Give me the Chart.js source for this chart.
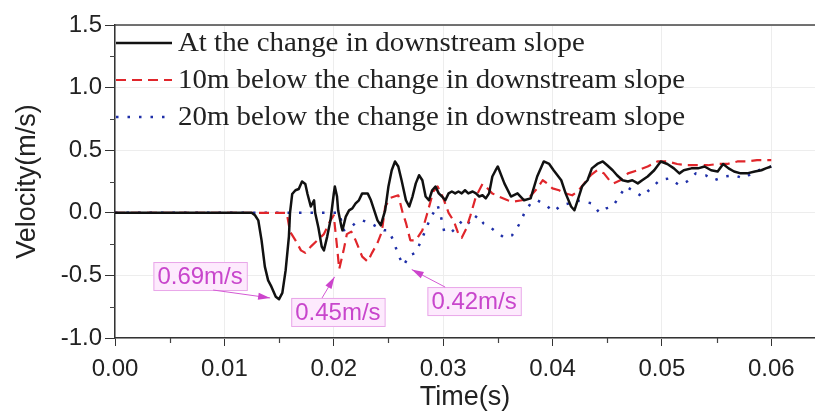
<!DOCTYPE html>
<html>
<head>
<meta charset="utf-8">
<script src="https://cdn.jsdelivr.net/npm/chart.js@4.4.1/dist/chart.umd.min.js"></script>
<style>
  html, body { margin: 0; padding: 0; background: #fff; }
  #wrap { width: 815px; height: 415px; position: relative; }
</style>
</head>
<body>
<div id="wrap"><canvas id="velocity-chart"></canvas></div>
<script>
// axis ticks
const xTicks = [0, 0.01, 0.02, 0.03, 0.04, 0.05, 0.06];
const yTicks = [-1.0, -0.5, 0.0, 0.5, 1.0, 1.5];

const seriesNames = [
    'At the change in downstream slope',
    '10m below the change in downstream slope',
    '20m below the change in downstream slope'
];

// velocity at the change in downstream slope
const atChangeTime = [0, 0.0125, 0.0128, 0.0131, 0.0134, 0.0137, 0.0140, 0.0143, 0.0147, 0.0150, 0.0153, 0.0156, 0.0159, 0.0160,
    0.0162, 0.0165, 0.0168, 0.0171, 0.0174, 0.0176, 0.0179, 0.0182, 0.0183, 0.0186, 0.0189, 0.0191, 0.0194, 0.0197, 0.0200,
    0.0201, 0.0203, 0.0204, 0.0207, 0.0208, 0.0211, 0.0214, 0.0217, 0.0220, 0.0223, 0.0226, 0.0231, 0.0234, 0.0237, 0.0240,
    0.0243, 0.0247, 0.0250, 0.0253, 0.0256, 0.0259, 0.0262, 0.0266, 0.0269, 0.0272, 0.0275, 0.0278, 0.0281, 0.0284, 0.0287,
    0.0290, 0.0293, 0.0296, 0.0299, 0.0302, 0.0305, 0.0308, 0.0311, 0.0314, 0.0317, 0.0320, 0.0323, 0.0327, 0.0330, 0.0333,
    0.0336, 0.0339, 0.0342, 0.0345, 0.0348, 0.0350, 0.0356, 0.0362, 0.0368, 0.0374, 0.0380, 0.0386, 0.0392, 0.0397, 0.0401,
    0.0408, 0.0412, 0.0417, 0.0420, 0.0423, 0.0427, 0.0432, 0.0436, 0.0441, 0.0446, 0.0450, 0.0455, 0.0459, 0.0464, 0.0469,
    0.0473, 0.0478, 0.0482, 0.0487, 0.0493, 0.0499, 0.0505, 0.0511, 0.0516, 0.0520, 0.0527, 0.0533, 0.0539, 0.0545, 0.0551,
    0.0556, 0.0561, 0.0566, 0.0572, 0.0578, 0.0585, 0.0591, 0.0595, 0.0600];
const atChangeVel = [0, 0, -0.02, -0.06, -0.22, -0.43, -0.54, -0.59, -0.67, -0.69, -0.64, -0.46, -0.19, 0.0,
    0.15, 0.18, 0.19, 0.25, 0.23, 0.15, 0.05, 0.10, 0.0, -0.12, -0.27, -0.30, -0.19, -0.06, 0.15,
    0.21, 0.13, 0.02, -0.11, -0.14, -0.03, 0.02, 0.035, 0.075, 0.10, 0.155, 0.155, 0.10, 0.02, -0.06,
    -0.10, 0.02, 0.21, 0.34, 0.41, 0.37, 0.26, 0.10, 0.05, 0.13, 0.235, 0.30, 0.26, 0.13, 0.10,
    0.18, 0.21, 0.155, 0.13, 0.10, 0.155, 0.17, 0.155, 0.17, 0.155, 0.18, 0.155, 0.17, 0.155, 0.13,
    0.14, 0.115, 0.155, 0.29, 0.34, 0.37, 0.235, 0.13, 0.155, 0.10, 0.115, 0.29, 0.41, 0.39, 0.34,
    0.26, 0.155, 0.05, 0.02, 0.10, 0.21, 0.26, 0.355, 0.39, 0.41, 0.38, 0.34, 0.30, 0.26, 0.25,
    0.26, 0.235, 0.26, 0.29, 0.34, 0.41, 0.39, 0.355, 0.315, 0.34, 0.355, 0.355, 0.37, 0.34, 0.33,
    0.39, 0.355, 0.33, 0.315, 0.315, 0.33, 0.34, 0.355, 0.37];

// 10 m below the change
const below10Time = [0, 0.0157, 0.0160, 0.0165, 0.0170, 0.0174, 0.0179, 0.0185, 0.0191, 0.0197, 0.0200, 0.0203, 0.0205,
    0.0209, 0.0212, 0.0216, 0.0220, 0.0226, 0.0231, 0.0235, 0.0240, 0.0244, 0.0247, 0.0252, 0.0259, 0.0263, 0.0266, 0.0270,
    0.0275, 0.0281, 0.0285, 0.0291, 0.0295, 0.0300, 0.0305, 0.0310, 0.0314, 0.0317, 0.0321, 0.0325, 0.0330, 0.0336, 0.0340,
    0.0345, 0.0351, 0.0359, 0.0365, 0.0372, 0.0378, 0.0386, 0.0391, 0.0395, 0.0400, 0.0406, 0.0412, 0.0418, 0.0423, 0.0429,
    0.0435, 0.0441, 0.0447, 0.0452, 0.0456, 0.0462, 0.0469, 0.0478, 0.0487, 0.0496, 0.0505, 0.0514, 0.0523, 0.0533, 0.0542,
    0.0551, 0.0560, 0.0569, 0.0578, 0.0587, 0.0597, 0.0600];
const below10Vel = [0, 0, -0.15, -0.22, -0.30, -0.32, -0.27, -0.22, -0.17, -0.06, -0.02, -0.27, -0.45,
    -0.30, -0.17, -0.15, -0.22, -0.35, -0.39, -0.32, -0.24, -0.15, 0.05, 0.12, 0.14, 0.0, -0.08, -0.22,
    -0.22, -0.14, -0.02, 0.17, 0.21, 0.12, 0.0, -0.07, -0.17, -0.20, -0.13, -0.02, 0.13, 0.23, 0.20,
    0.155, 0.13, 0.10, 0.09, 0.10, 0.115, 0.195, 0.26, 0.235, 0.195, 0.18, 0.155, 0.14, 0.17, 0.235,
    0.30, 0.34, 0.315, 0.26, 0.235, 0.26, 0.315, 0.34, 0.37, 0.41, 0.41, 0.39, 0.38, 0.38, 0.38,
    0.39, 0.39, 0.41, 0.41, 0.42, 0.42, 0.42];

// 20 m below the change
const below20Time = [0, 0.0205, 0.0209, 0.0215, 0.0220, 0.0226, 0.0234, 0.0241, 0.0246, 0.0250, 0.0255, 0.0259, 0.0264,
    0.0269, 0.0275, 0.0281, 0.0288, 0.0295, 0.0298, 0.0301, 0.0307, 0.0313, 0.0319, 0.0325, 0.0331, 0.0337, 0.0341, 0.0348,
    0.0356, 0.0363, 0.0369, 0.0375, 0.0380, 0.0386, 0.0394, 0.0401, 0.0408, 0.0415, 0.0421, 0.0429, 0.0436, 0.0443, 0.0449,
    0.0455, 0.0461, 0.0467, 0.0475, 0.0482, 0.0490, 0.0498, 0.0507, 0.0516, 0.0523, 0.0531, 0.0540, 0.0548, 0.0557, 0.0566,
    0.0575, 0.0585, 0.0594, 0.0600];
const below20Vel = [0, 0, -0.14, -0.12, -0.08, -0.06, -0.085, -0.12, -0.14, -0.14, -0.23, -0.34, -0.42,
    -0.34, -0.32, -0.20, -0.05, 0.06, -0.03, -0.15, -0.16, -0.11, -0.045, -0.09, -0.02, -0.085, -0.10, -0.15,
    -0.20, -0.18, -0.10, 0.01, 0.075, 0.10, 0.06, 0.01, 0.06, 0.075, 0.10, 0.09, 0.075, 0.0, 0.035,
    0.05, 0.13, 0.21, 0.17, 0.13, 0.195, 0.26, 0.275, 0.22, 0.25, 0.315, 0.30, 0.26, 0.29, 0.30,
    0.275, 0.33, 0.355, 0.37];

function toPoints(ts, vs) {
    return ts.map((t, i) => ({x: t, y: vs[i]}));
}

// callouts for the peak negative velocity of each series
const callouts = [
    {series: 0, cx: 0.00778, cy: -0.505, ax: 0.64, ay: 1},
    {series: 1, cx: 0.02038, cy: -0.792, ax: 0.33, ay: 0},
    {series: 2, cx: 0.03283, cy: -0.705, ax: 0.19, ay: 0}
];

const frameAndMinorTicks = {
    id: 'frameAndMinorTicks',
    afterDraw(chart) {
        const {ctx, chartArea, scales} = chart;
        const x = scales.x, y = scales.y;
        ctx.save();
        ctx.strokeStyle = '#444';
        ctx.lineWidth = 1.5;
        ctx.beginPath();
        ctx.moveTo(chartArea.left, chartArea.top);
        ctx.lineTo(chartArea.right, chartArea.top);
        ctx.stroke();
        ctx.lineWidth = 1.2;
        ctx.beginPath();
        for (let i = 0; i < xTicks.length; i++) {
            const v = xTicks[i] + 0.005;
            if (v > x.max) continue;
            const px = Math.round(x.getPixelForValue(v)) + 0.5;
            ctx.moveTo(px, chartArea.bottom);
            ctx.lineTo(px, chartArea.bottom + 5);
        }
        for (let i = 0; i < yTicks.length - 1; i++) {
            const py = Math.round(y.getPixelForValue((yTicks[i] + yTicks[i + 1]) / 2)) + 0.5;
            ctx.moveTo(chartArea.left, py);
            ctx.lineTo(chartArea.left - 5, py);
        }
        ctx.stroke();
        ctx.restore();
    }
};

const lineLegend = {
    id: 'lineLegend',
    afterDatasetsDraw(chart) {
        const {ctx, chartArea} = chart;
        chart.data.datasets.forEach((ds, i) => {
            const yy = chartArea.top + 18 + i * 37;
            ctx.save();
            ctx.strokeStyle = ds.borderColor;
            ctx.lineWidth = ds.borderWidth;
            ctx.setLineDash(ds.borderDash || []);
            ctx.beginPath();
            ctx.moveTo(chartArea.left + 1, yy);
            ctx.lineTo(chartArea.left + 57, yy);
            ctx.stroke();
            ctx.setLineDash([]);
            ctx.fillStyle = '#222';
            ctx.font = '27px "Liberation Serif", "Times New Roman", serif';
            ctx.textBaseline = 'middle';
            // the serif labels run slightly wide
            ctx.translate(chartArea.left + 63, yy + 1);
            ctx.scale(1.07, 1);
            ctx.fillText(ds.label, 0, 0);
            ctx.restore();
        });
    }
};

const minCallouts = {
    id: 'minCallouts',
    afterDatasetsDraw(chart) {
        const {ctx} = chart;
        const x = chart.scales.x, y = chart.scales.y;
        callouts.forEach(c => {
            const pts = chart.data.datasets[c.series].data;
            let low = pts[0];
            pts.forEach(p => { if (p.y < low.y) low = p; });
            const text = Math.abs(low.y).toFixed(2) + 'm/s';

            ctx.save();
            ctx.font = '24px "Liberation Sans", Arial, sans-serif';
            const w = ctx.measureText(text).width + 8;
            const h = 28;
            const bx = x.getPixelForValue(c.cx) - w / 2;
            const by = y.getPixelForValue(c.cy) - h / 2;
            ctx.fillStyle = '#fdeafd';
            ctx.fillRect(bx, by, w, h);
            ctx.strokeStyle = '#e9a6e9';
            ctx.lineWidth = 1;
            ctx.strokeRect(bx + 0.5, by + 0.5, w, h);
            ctx.fillStyle = '#c846cc';
            ctx.textBaseline = 'middle';
            ctx.textAlign = 'center';
            ctx.fillText(text, bx + w / 2, by + h / 2 + 1);

            // arrow from the box to the lowest point
            const sx = bx + w * c.ax, sy = by + h * c.ay;
            const tx = x.getPixelForValue(low.x), ty = y.getPixelForValue(low.y);
            const ang = Math.atan2(ty - sy, tx - sx);
            const ex = tx - Math.cos(ang) * 9, ey = ty - Math.sin(ang) * 9;
            ctx.strokeStyle = '#d45ad4';
            ctx.beginPath();
            ctx.moveTo(sx, sy);
            ctx.lineTo(ex, ey);
            ctx.stroke();
            ctx.fillStyle = '#cc44cc';
            ctx.beginPath();
            ctx.moveTo(ex, ey);
            ctx.lineTo(ex - Math.cos(ang) * 12 + Math.sin(ang) * 3.5, ey - Math.sin(ang) * 12 - Math.cos(ang) * 3.5);
            ctx.lineTo(ex - Math.cos(ang) * 12 - Math.sin(ang) * 3.5, ey - Math.sin(ang) * 12 + Math.cos(ang) * 3.5);
            ctx.closePath();
            ctx.fill();
            ctx.restore();
        });
    }
};

const tickFont = {family: '"Liberation Sans", Arial, sans-serif', size: 24};
const titleFont = {family: '"Liberation Sans", Arial, sans-serif', size: 27};

new Chart(document.getElementById('velocity-chart'), {
    type: 'line',
    data: {
        datasets: [
            {
                label: seriesNames[0],
                data: toPoints(atChangeTime, atChangeVel),
                borderColor: '#111111',
                borderWidth: 2.5
            },
            {
                label: seriesNames[1],
                data: toPoints(below10Time, below10Vel),
                borderColor: '#e0262b',
                borderWidth: 2.2,
                borderDash: [10, 6]
            },
            {
                label: seriesNames[2],
                data: toPoints(below20Time, below20Vel),
                borderColor: '#1f2fa8',
                borderWidth: 2.5,
                borderDash: [2.5, 9]
            }
        ]
    },
    options: {
        responsive: true,
        maintainAspectRatio: false,
        animation: false,
        layout: {padding: {top: 25, right: 0, left: 0, bottom: 0}},
        elements: {
            point: {radius: 0},
            line: {tension: 0, borderJoinStyle: 'round'}
        },
        plugins: {
            legend: {display: false},
            tooltip: {enabled: false}
        },
        scales: {
            x: {
                type: 'linear',
                min: 0,
                max: 0.064,
                afterBuildTicks: scale => { scale.ticks = xTicks.map(v => ({value: v})); },
                afterFit: scale => { scale.height = 77; },
                ticks: {
                    font: tickFont,
                    color: '#222',
                    padding: 9,
                    maxRotation: 0,
                    callback: v => Number(v).toFixed(2)
                },
                grid: {color: '#ededed', tickColor: '#333', tickLength: 8, lineWidth: 1},
                border: {color: '#333', width: 1.5},
                title: {display: true, text: 'Time(s)', font: titleFont, color: '#222', padding: {top: 0, bottom: 1}}
            },
            y: {
                min: -1.0,
                max: 1.5,
                afterBuildTicks: scale => { scale.ticks = yTicks.map(v => ({value: v})); },
                afterFit: scale => { scale.width = 115; },
                ticks: {
                    font: tickFont,
                    color: '#222',
                    padding: 3,
                    callback: v => Number(v).toFixed(1)
                },
                grid: {color: '#ededed', tickColor: '#333', tickLength: 10, lineWidth: 1},
                border: {color: '#333', width: 1.5},
                title: {display: true, text: 'Velocity(m/s)', font: titleFont, color: '#222', padding: {top: 11, bottom: 0}}
            }
        }
    },
    plugins: [frameAndMinorTicks, lineLegend, minCallouts]
});
</script>
</body>
</html>
